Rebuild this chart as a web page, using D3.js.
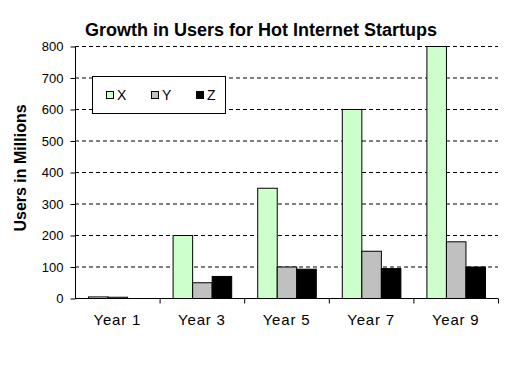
<!DOCTYPE html>
<html><head><meta charset="utf-8">
<script src="https://cdn.jsdelivr.net/npm/d3@7"></script>
<style>body{margin:0;background:#fff}</style>
</head><body><svg id="c" width="532" height="372"></svg>
<script>
const categories = ["Year 1", "Year 3", "Year 5", "Year 7", "Year 9"];
const seriesNames = ["X", "Y", "Z"];
const xValues = [5, 200, 350, 600, 800];
const yValues = [4, 50, 100, 150, 180];
const zValues = [0, 70, 93, 95, 100];
const yTicks = [0, 100, 200, 300, 400, 500, 600, 700, 800];
const colors = ["#ccffcc", "#c0c0c0", "#000000"];
const title = "Growth in Users for Hot Internet Startups";
const yTitle = "Users in Millions";

const series = [xValues, yValues, zValues];
const svg = d3.select("#c");
const font = "Arial, 'Liberation Sans', sans-serif";
const L = 75, R = 498, T = 46, B = 298;

const x = d3.scaleBand().domain(categories).range([L, R]).paddingInner(0).paddingOuter(0);
const x1 = d3.scaleBand().domain(seriesNames).range([13, x.bandwidth() - 13]);
const y = d3.scaleLinear().domain([0, 800]).range([B, T]);

// gridlines
svg.append("g").selectAll("line").data(yTicks.filter(d => d > 0)).join("line")
  .attr("x1", L).attr("x2", R).attr("y1", d => y(d) + 0.5).attr("y2", d => y(d) + 0.5)
  .attr("stroke", "#000").attr("stroke-dasharray", "4,3").attr("stroke-width", 1);

// bars
const g = svg.append("g");
categories.forEach((c, i) => {
  seriesNames.forEach((s, j) => {
    const v = series[j][i];
    if (v <= 0) return;
    g.append("rect")
      .attr("x", x(c) + x1(s) + 0.5)
      .attr("y", y(v) + 0.5)
      .attr("width", x1.bandwidth())
      .attr("height", Math.max(0, y(0) - y(v)))
      .attr("fill", colors[j]).attr("stroke", "#000").attr("stroke-width", 1);
  });
});

// y axis
const ya = svg.append("g").attr("transform", `translate(${L + 0.5},0.5)`)
  .call(d3.axisLeft(y).tickValues(yTicks).tickSize(5).tickPadding(7));
ya.select(".domain").attr("d", `M0,${T}V${B}`);
ya.selectAll("text").attr("font-family", font).attr("font-size", 13).attr("fill", "#000");

// x axis
const xa = svg.append("g").attr("transform", `translate(0,${B + 0.5})`);
xa.append("line").attr("x1", L).attr("x2", R).attr("stroke", "#000");
xa.selectAll("line.t").data(categories).join("line").attr("class", "t")
  .attr("x1", d => x(d) + x.bandwidth() + 0.5).attr("x2", d => x(d) + x.bandwidth() + 0.5)
  .attr("y1", 0).attr("y2", 5).attr("stroke", "#000");
xa.selectAll("text").data(categories).join("text")
  .attr("x", d => x(d) + x.bandwidth() / 2).attr("y", 26)
  .attr("text-anchor", "middle").attr("font-family", font).attr("font-size", 15)
  .attr("letter-spacing", 0.8)
  .text(d => d);

// title
svg.append("text").attr("x", 261).attr("y", 36).attr("text-anchor", "middle")
  .attr("font-family", font).attr("font-weight", "bold").attr("font-size", 18).text(title);

// y title
svg.append("text").attr("transform", `translate(26,${(T + B) / 2 - 4}) rotate(-90)`)
  .attr("text-anchor", "middle").attr("font-family", font).attr("font-weight", "bold")
  .attr("font-size", 16).text(yTitle);

// legend
const lg = svg.append("g");
lg.append("rect").attr("x", 92.5).attr("y", 76.5).attr("width", 133).attr("height", 37)
  .attr("fill", "#fff").attr("stroke", "#000");
const lx = [106, 151, 196];
seriesNames.forEach((s, j) => {
  lg.append("rect").attr("x", lx[j] + 0.5).attr("y", 91.5).attr("width", 7).attr("height", 7)
    .attr("fill", colors[j]).attr("stroke", "#000");
  lg.append("text").attr("x", lx[j] + 11).attr("y", 100).attr("font-family", font)
    .attr("font-size", 14).text(s);
});
</script></body></html>
